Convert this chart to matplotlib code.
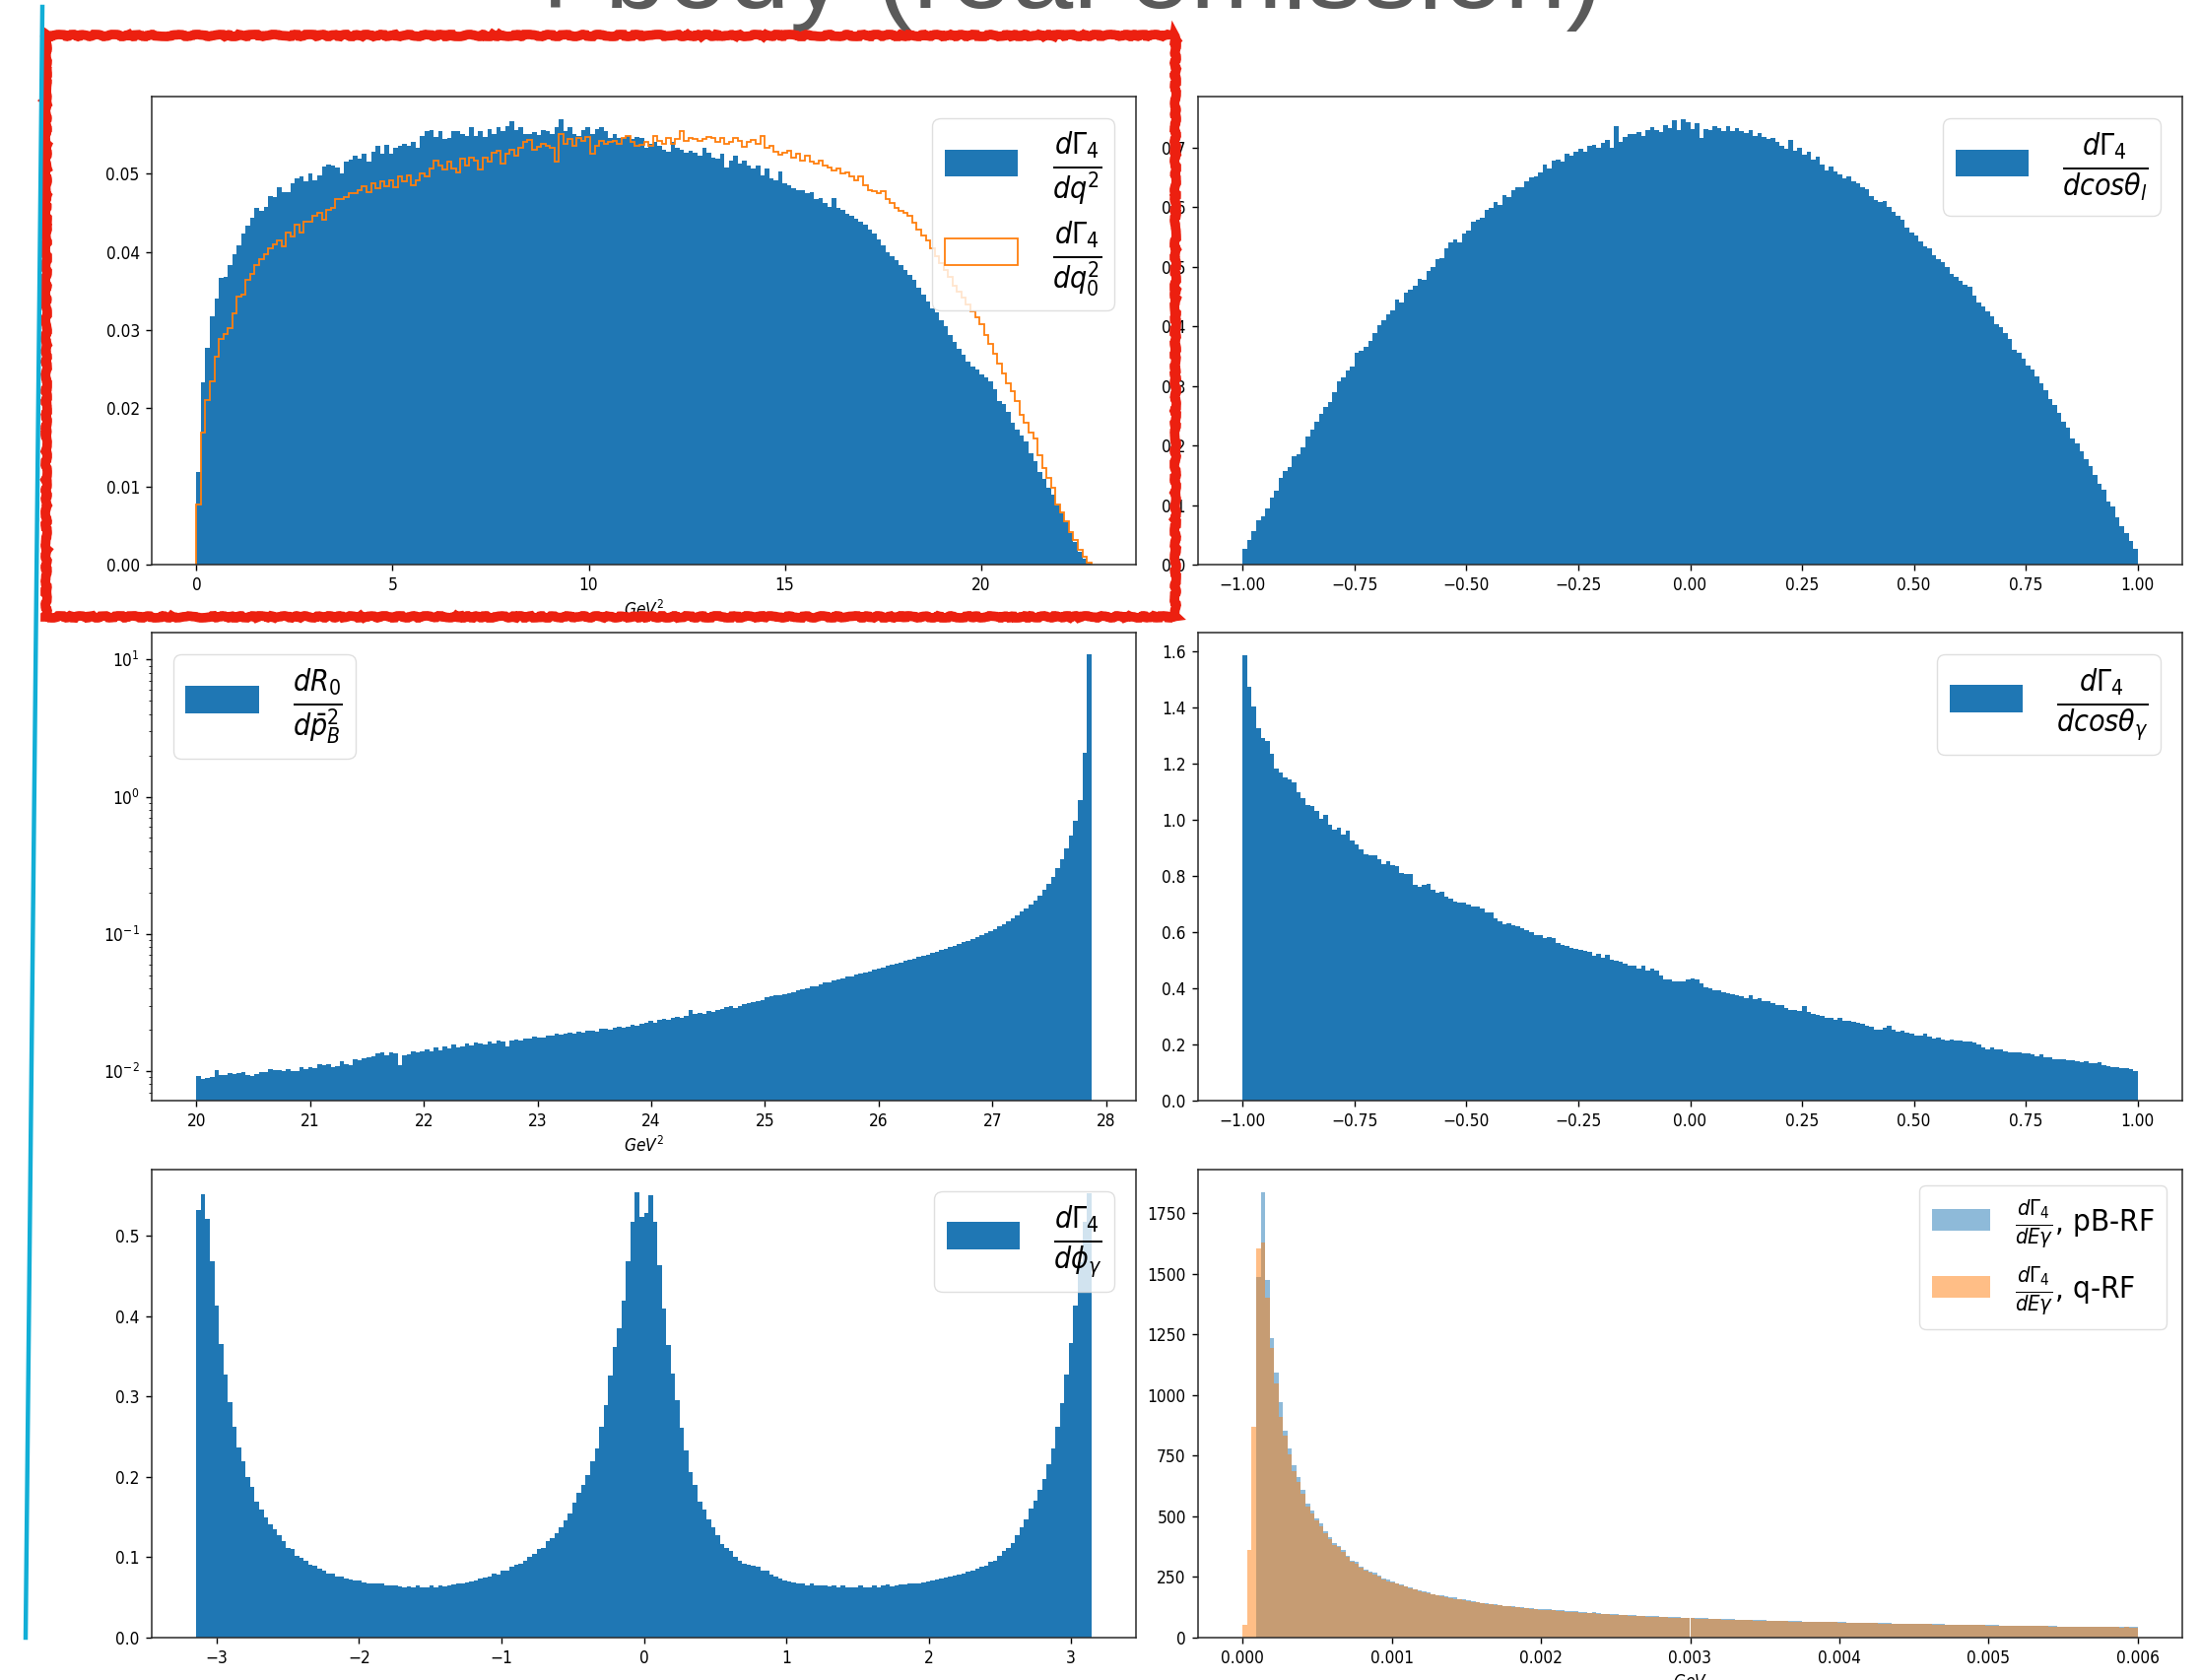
import numpy as np
import matplotlib
matplotlib.use('Agg')
import matplotlib.pyplot as plt
from matplotlib.patches import Rectangle
from matplotlib.lines import Line2D

# ---- data (bin heights, 200 bins each) ----
q2_range = (0.0, 22.81)
q2_blue = [
    0.0118, 0.0233, 0.0277, 0.0317, 0.0340, 0.0367, 0.0368, 0.0383, 0.0397, 0.0408,
    0.0423, 0.0433, 0.0444, 0.0456, 0.0452, 0.0457, 0.0471, 0.0470, 0.0483, 0.0476,
    0.0476, 0.0487, 0.0494, 0.0496, 0.0490, 0.0500, 0.0491, 0.0498, 0.0509, 0.0512,
    0.0510, 0.0508, 0.0500, 0.0515, 0.0518, 0.0523, 0.0519, 0.0526, 0.0515, 0.0528,
    0.0536, 0.0525, 0.0537, 0.0525, 0.0533, 0.0536, 0.0538, 0.0536, 0.0540, 0.0533,
    0.0548, 0.0555, 0.0556, 0.0547, 0.0555, 0.0544, 0.0546, 0.0554, 0.0555, 0.0550,
    0.0548, 0.0559, 0.0548, 0.0554, 0.0547, 0.0557, 0.0550, 0.0559, 0.0554, 0.0561,
    0.0567, 0.0556, 0.0559, 0.0550, 0.0550, 0.0553, 0.0549, 0.0556, 0.0554, 0.0551,
    0.0559, 0.0570, 0.0554, 0.0559, 0.0551, 0.0548, 0.0556, 0.0559, 0.0550, 0.0557,
    0.0559, 0.0554, 0.0546, 0.0551, 0.0545, 0.0546, 0.0548, 0.0544, 0.0547, 0.0546,
    0.0533, 0.0538, 0.0540, 0.0536, 0.0530, 0.0528, 0.0540, 0.0533, 0.0531, 0.0527,
    0.0529, 0.0527, 0.0523, 0.0533, 0.0527, 0.0521, 0.0519, 0.0525, 0.0508, 0.0517,
    0.0523, 0.0513, 0.0517, 0.0510, 0.0506, 0.0510, 0.0498, 0.0506, 0.0494, 0.0491,
    0.0503, 0.0487, 0.0485, 0.0481, 0.0479, 0.0479, 0.0475, 0.0476, 0.0467, 0.0469,
    0.0462, 0.0458, 0.0469, 0.0456, 0.0454, 0.0449, 0.0446, 0.0442, 0.0438, 0.0435,
    0.0429, 0.0423, 0.0416, 0.0408, 0.0400, 0.0395, 0.0389, 0.0383, 0.0377, 0.0370,
    0.0364, 0.0354, 0.0345, 0.0337, 0.0328, 0.0322, 0.0312, 0.0305, 0.0293, 0.0285,
    0.0276, 0.0268, 0.0259, 0.0253, 0.0249, 0.0243, 0.0240, 0.0234, 0.0224, 0.0209,
    0.0205, 0.0195, 0.0182, 0.0172, 0.0165, 0.0157, 0.0142, 0.0132, 0.0119, 0.0109,
    0.0098, 0.0090, 0.0075, 0.0065, 0.0054, 0.0040, 0.0029, 0.0017, 0.0007, 0.0001]
q2_orange = [
    0.0077, 0.0169, 0.0211, 0.0234, 0.0266, 0.0289, 0.0295, 0.0303, 0.0321, 0.0343,
    0.0345, 0.0364, 0.0372, 0.0383, 0.0391, 0.0397, 0.0404, 0.0410, 0.0414, 0.0407,
    0.0425, 0.0420, 0.0435, 0.0425, 0.0438, 0.0438, 0.0446, 0.0450, 0.0441, 0.0454,
    0.0456, 0.0467, 0.0467, 0.0470, 0.0475, 0.0475, 0.0479, 0.0484, 0.0476, 0.0487,
    0.0481, 0.0490, 0.0484, 0.0492, 0.0483, 0.0496, 0.0490, 0.0498, 0.0485, 0.0492,
    0.0500, 0.0496, 0.0506, 0.0517, 0.0510, 0.0505, 0.0515, 0.0506, 0.0502, 0.0519,
    0.0510, 0.0521, 0.0517, 0.0505, 0.0520, 0.0515, 0.0527, 0.0529, 0.0513, 0.0525,
    0.0530, 0.0523, 0.0533, 0.0540, 0.0543, 0.0530, 0.0534, 0.0538, 0.0536, 0.0533,
    0.0515, 0.0550, 0.0538, 0.0544, 0.0536, 0.0546, 0.0542, 0.0547, 0.0525, 0.0536,
    0.0542, 0.0538, 0.0540, 0.0542, 0.0538, 0.0546, 0.0548, 0.0540, 0.0536, 0.0537,
    0.0540, 0.0536, 0.0548, 0.0542, 0.0538, 0.0546, 0.0538, 0.0544, 0.0554, 0.0542,
    0.0546, 0.0544, 0.0542, 0.0544, 0.0547, 0.0545, 0.0540, 0.0546, 0.0538, 0.0540,
    0.0546, 0.0542, 0.0534, 0.0540, 0.0543, 0.0538, 0.0548, 0.0533, 0.0536, 0.0528,
    0.0524, 0.0527, 0.0529, 0.0520, 0.0525, 0.0517, 0.0523, 0.0515, 0.0513, 0.0517,
    0.0510, 0.0508, 0.0504, 0.0506, 0.0500, 0.0502, 0.0496, 0.0491, 0.0496, 0.0485,
    0.0479, 0.0477, 0.0475, 0.0477, 0.0467, 0.0462, 0.0456, 0.0452, 0.0450, 0.0446,
    0.0437, 0.0429, 0.0421, 0.0414, 0.0404, 0.0395, 0.0385, 0.0377, 0.0368, 0.0356,
    0.0349, 0.0341, 0.0333, 0.0324, 0.0316, 0.0308, 0.0293, 0.0282, 0.0270, 0.0257,
    0.0245, 0.0232, 0.0222, 0.0209, 0.0192, 0.0182, 0.0169, 0.0161, 0.0140, 0.0123,
    0.0111, 0.0098, 0.0077, 0.0067, 0.0056, 0.0042, 0.0031, 0.0019, 0.0010, 0.0003]

cos_range = (-1.0, 1.0)
costh_l = [
    0.026, 0.042, 0.056, 0.075, 0.081, 0.094, 0.113, 0.124, 0.146, 0.157,
    0.164, 0.182, 0.186, 0.196, 0.215, 0.226, 0.240, 0.253, 0.264, 0.272,
    0.289, 0.308, 0.314, 0.325, 0.333, 0.355, 0.358, 0.366, 0.375, 0.388,
    0.402, 0.410, 0.420, 0.426, 0.445, 0.440, 0.457, 0.462, 0.468, 0.480,
    0.478, 0.492, 0.500, 0.512, 0.515, 0.530, 0.540, 0.546, 0.540, 0.556,
    0.560, 0.575, 0.578, 0.582, 0.596, 0.598, 0.608, 0.603, 0.620, 0.616,
    0.628, 0.633, 0.634, 0.644, 0.650, 0.652, 0.658, 0.672, 0.665, 0.678,
    0.680, 0.676, 0.690, 0.686, 0.692, 0.697, 0.692, 0.702, 0.705, 0.700,
    0.708, 0.713, 0.699, 0.735, 0.709, 0.718, 0.723, 0.722, 0.726, 0.720,
    0.729, 0.734, 0.730, 0.726, 0.737, 0.733, 0.745, 0.730, 0.748, 0.743,
    0.731, 0.740, 0.716, 0.731, 0.729, 0.735, 0.733, 0.728, 0.735, 0.727,
    0.733, 0.728, 0.725, 0.729, 0.720, 0.724, 0.718, 0.714, 0.716, 0.710,
    0.703, 0.698, 0.712, 0.694, 0.700, 0.688, 0.692, 0.680, 0.685, 0.672,
    0.662, 0.668, 0.660, 0.655, 0.648, 0.652, 0.644, 0.640, 0.634, 0.630,
    0.618, 0.612, 0.608, 0.610, 0.600, 0.592, 0.586, 0.578, 0.566, 0.558,
    0.553, 0.543, 0.534, 0.530, 0.520, 0.512, 0.508, 0.500, 0.488, 0.483,
    0.476, 0.470, 0.466, 0.452, 0.440, 0.433, 0.425, 0.416, 0.404, 0.398,
    0.388, 0.378, 0.360, 0.355, 0.345, 0.334, 0.327, 0.315, 0.305, 0.292,
    0.278, 0.268, 0.255, 0.240, 0.230, 0.212, 0.203, 0.190, 0.177, 0.165,
    0.150, 0.136, 0.125, 0.106, 0.097, 0.080, 0.065, 0.053, 0.040, 0.026]

pb2_range = (20.0, 27.87)
pb2_R0 = [
    0.0092, 0.0087, 0.0089, 0.0091, 0.0101, 0.0094, 0.0094, 0.0096, 0.0095, 0.0097,
    0.0098, 0.0094, 0.0092, 0.0095, 0.0099, 0.0098, 0.0103, 0.0101, 0.0102, 0.0100,
    0.0104, 0.0100, 0.0100, 0.0106, 0.0103, 0.0107, 0.0105, 0.0113, 0.0110, 0.0112,
    0.0107, 0.0109, 0.0118, 0.0112, 0.0111, 0.0121, 0.0119, 0.0124, 0.0126, 0.0128,
    0.0135, 0.0136, 0.0131, 0.0138, 0.0134, 0.0111, 0.0131, 0.0133, 0.0140, 0.0137,
    0.0140, 0.0145, 0.0139, 0.0148, 0.0141, 0.0150, 0.0146, 0.0155, 0.0149, 0.0152,
    0.0158, 0.0154, 0.0162, 0.0160, 0.0157, 0.0165, 0.0160, 0.0166, 0.0163, 0.0150,
    0.0168, 0.0170, 0.0167, 0.0174, 0.0172, 0.0178, 0.0176, 0.0175, 0.0180, 0.0182,
    0.0186, 0.0183, 0.0188, 0.0190, 0.0187, 0.0194, 0.0192, 0.0196, 0.0198, 0.0195,
    0.0202, 0.0204, 0.0200, 0.0207, 0.0209, 0.0206, 0.0212, 0.0218, 0.0215, 0.0222,
    0.0226, 0.0231, 0.0226, 0.0236, 0.0240, 0.0236, 0.0243, 0.0248, 0.0246, 0.0252,
    0.0280, 0.0262, 0.0265, 0.0262, 0.0275, 0.0271, 0.0280, 0.0284, 0.0291, 0.0296,
    0.0288, 0.0300, 0.0306, 0.0312, 0.0318, 0.0326, 0.0330, 0.0346, 0.0352, 0.0356,
    0.0360, 0.0366, 0.0372, 0.0376, 0.0388, 0.0396, 0.0402, 0.0412, 0.0418, 0.0428,
    0.0440, 0.0446, 0.0456, 0.0462, 0.0476, 0.0486, 0.0490, 0.0502, 0.0512, 0.0525,
    0.0532, 0.0548, 0.0562, 0.0570, 0.0584, 0.0598, 0.0606, 0.0620, 0.0636, 0.0648,
    0.0662, 0.0676, 0.0692, 0.0706, 0.0724, 0.0740, 0.0760, 0.0782, 0.0798, 0.0820,
    0.0842, 0.0866, 0.0890, 0.0918, 0.0946, 0.0976, 0.1010, 0.1050, 0.1090, 0.1130,
    0.1180, 0.1240, 0.1300, 0.1370, 0.1450, 0.1540, 0.1640, 0.1760, 0.1900, 0.2080,
    0.2300, 0.2600, 0.3000, 0.3500, 0.4200, 0.5200, 0.6700, 0.9500, 2.0800, 11.000]

costh_g = [
    1.586, 1.472, 1.404, 1.324, 1.291, 1.280, 1.233, 1.183, 1.167, 1.151,
    1.143, 1.132, 1.096, 1.076, 1.052, 1.047, 1.029, 1.003, 1.017, 0.983,
    0.965, 0.971, 0.948, 0.959, 0.927, 0.913, 0.895, 0.878, 0.874, 0.874,
    0.860, 0.840, 0.852, 0.837, 0.834, 0.810, 0.808, 0.805, 0.767, 0.761,
    0.767, 0.770, 0.752, 0.738, 0.744, 0.726, 0.717, 0.709, 0.705, 0.705,
    0.697, 0.691, 0.691, 0.685, 0.670, 0.668, 0.647, 0.639, 0.627, 0.631,
    0.624, 0.619, 0.615, 0.607, 0.598, 0.589, 0.589, 0.580, 0.582, 0.578,
    0.561, 0.554, 0.549, 0.545, 0.540, 0.537, 0.534, 0.530, 0.516, 0.522,
    0.510, 0.519, 0.502, 0.499, 0.493, 0.487, 0.481, 0.479, 0.470, 0.479,
    0.464, 0.470, 0.464, 0.446, 0.432, 0.432, 0.425, 0.423, 0.423, 0.431,
    0.435, 0.432, 0.417, 0.402, 0.400, 0.394, 0.394, 0.386, 0.382, 0.379,
    0.374, 0.371, 0.365, 0.374, 0.362, 0.365, 0.355, 0.353, 0.347, 0.341,
    0.339, 0.330, 0.324, 0.324, 0.320, 0.336, 0.316, 0.309, 0.304, 0.301,
    0.295, 0.293, 0.289, 0.293, 0.283, 0.283, 0.281, 0.277, 0.272, 0.266,
    0.262, 0.254, 0.254, 0.258, 0.266, 0.254, 0.246, 0.248, 0.242, 0.239,
    0.233, 0.231, 0.239, 0.227, 0.221, 0.223, 0.219, 0.213, 0.216, 0.213,
    0.213, 0.211, 0.211, 0.207, 0.199, 0.190, 0.184, 0.188, 0.181, 0.184,
    0.176, 0.172, 0.172, 0.172, 0.169, 0.167, 0.164, 0.157, 0.164, 0.153,
    0.153, 0.149, 0.149, 0.146, 0.143, 0.143, 0.141, 0.138, 0.141, 0.134,
    0.132, 0.138, 0.126, 0.122, 0.120, 0.118, 0.114, 0.114, 0.111, 0.106]

phi_range = (-np.pi, np.pi)
phi_g = [
    0.533, 0.552, 0.521, 0.469, 0.414, 0.365, 0.328, 0.293, 0.263, 0.237,
    0.220, 0.200, 0.188, 0.169, 0.159, 0.150, 0.141, 0.135, 0.127, 0.120,
    0.112, 0.111, 0.102, 0.099, 0.096, 0.091, 0.090, 0.086, 0.083, 0.080,
    0.080, 0.076, 0.076, 0.073, 0.072, 0.071, 0.071, 0.069, 0.068, 0.068,
    0.067, 0.067, 0.065, 0.065, 0.065, 0.064, 0.063, 0.064, 0.062, 0.065,
    0.062, 0.063, 0.065, 0.063, 0.065, 0.064, 0.065, 0.066, 0.067, 0.068,
    0.069, 0.070, 0.071, 0.074, 0.075, 0.076, 0.080, 0.078, 0.083, 0.084,
    0.088, 0.091, 0.092, 0.096, 0.100, 0.104, 0.110, 0.112, 0.120, 0.124,
    0.130, 0.138, 0.146, 0.155, 0.168, 0.180, 0.190, 0.203, 0.220, 0.236,
    0.262, 0.290, 0.326, 0.362, 0.385, 0.420, 0.469, 0.518, 0.555, 0.524,
    0.529, 0.551, 0.518, 0.464, 0.410, 0.364, 0.329, 0.296, 0.261, 0.233,
    0.206, 0.190, 0.169, 0.159, 0.147, 0.138, 0.128, 0.117, 0.112, 0.108,
    0.100, 0.096, 0.092, 0.091, 0.089, 0.088, 0.084, 0.083, 0.078, 0.076,
    0.074, 0.071, 0.070, 0.069, 0.068, 0.068, 0.065, 0.067, 0.065, 0.065,
    0.065, 0.064, 0.065, 0.063, 0.065, 0.062, 0.063, 0.062, 0.065, 0.062,
    0.062, 0.065, 0.063, 0.065, 0.066, 0.064, 0.065, 0.066, 0.066, 0.067,
    0.067, 0.068, 0.069, 0.070, 0.071, 0.072, 0.073, 0.075, 0.076, 0.077,
    0.078, 0.080, 0.082, 0.084, 0.086, 0.088, 0.090, 0.094, 0.096, 0.102,
    0.108, 0.112, 0.118, 0.127, 0.137, 0.147, 0.161, 0.171, 0.184, 0.198,
    0.216, 0.235, 0.263, 0.292, 0.327, 0.367, 0.414, 0.467, 0.518, 0.553]

egam_range = (0.0, 0.006)
egam_pB = [
    0, 0, 0, 1489, 1838, 1476, 1235, 1091, 970, 855,
    782, 709, 662, 608, 554, 523, 493, 473, 439, 415,
    392, 378, 361, 338, 318, 311, 291, 280, 274, 268,
    254, 243, 239, 230, 224, 218, 212, 206, 200, 195,
    190, 186, 180, 176, 175, 170, 166, 165, 160, 157,
    154, 150, 148, 144, 142, 140, 138, 135, 130, 131,
    129, 126, 125, 122, 123, 119, 118, 118, 116, 115,
    113, 112, 110, 109, 108, 106, 105, 103, 104, 101,
    99, 98, 97, 96, 95, 94, 93, 92, 91, 90,
    89, 88, 88, 87, 86, 85, 84, 84, 83, 82,
    82, 81, 80, 80, 79, 78, 78, 77, 76, 76,
    75, 75, 74, 73, 73, 72, 72, 71, 71, 70,
    70, 69, 69, 68, 68, 67, 67, 66, 66, 65,
    65, 64, 64, 63, 63, 62, 62, 62, 61, 61,
    60, 60, 60, 59, 59, 58, 58, 58, 57, 57,
    57, 56, 56, 56, 55, 55, 55, 54, 54, 54,
    53, 53, 53, 52, 52, 52, 51, 51, 51, 50,
    49, 49, 49, 49, 48, 48, 48, 48, 47, 47,
    47, 47, 46, 46, 46, 46, 45, 45, 45, 45,
    45, 44, 44, 44, 44, 43, 43, 43, 43, 43]
egam_q = [
    54, 361, 868, 1604, 1631, 1400, 1196, 1047, 909, 831,
    757, 688, 640, 595, 540, 510, 482, 460, 430, 405,
    383, 372, 352, 332, 312, 303, 287, 276, 268, 262,
    250, 240, 232, 228, 222, 215, 210, 203, 198, 192,
    188, 184, 178, 175, 170, 166, 163, 160, 157, 154,
    151, 147, 145, 142, 140, 137, 135, 133, 130, 128,
    126, 124, 122, 120, 119, 117, 115, 115, 113, 112,
    110, 109, 107, 106, 105, 103, 102, 101, 100, 99,
    97, 96, 95, 94, 93, 92, 91, 90, 89, 88,
    87, 87, 86, 85, 84, 83, 83, 82, 81, 81,
    80, 79, 79, 78, 77, 77, 76, 75, 75, 74,
    74, 73, 72, 72, 71, 71, 70, 70, 69, 69,
    68, 68, 67, 67, 66, 66, 65, 65, 64, 64,
    63, 63, 63, 62, 62, 61, 61, 60, 60, 60,
    59, 59, 58, 58, 58, 57, 57, 57, 56, 56,
    56, 55, 55, 55, 54, 54, 54, 53, 53, 53,
    52, 52, 52, 51, 51, 51, 50, 50, 50, 49,
    49, 49, 48, 48, 48, 48, 47, 47, 47, 47,
    46, 46, 46, 46, 45, 45, 45, 45, 44, 44,
    44, 44, 43, 43, 43, 43, 42, 43, 42, 42]

# ---- style ----
W, H = 2234, 1705
plt.rcParams['font.family'] = ['DejaVu Sans']
plt.rcParams['font.stretch'] = 'condensed'
plt.rcParams['axes.linewidth'] = 1.1
plt.rcParams['axes.edgecolor'] = '#2a2a2a'
plt.rcParams['xtick.labelsize'] = 12.4
plt.rcParams['ytick.labelsize'] = 12.4
plt.rcParams['xtick.major.size'] = 4.4
plt.rcParams['ytick.major.size'] = 4.4
plt.rcParams['xtick.major.width'] = 1.0
plt.rcParams['ytick.major.width'] = 1.0
plt.rcParams['xtick.major.pad'] = 4.4
plt.rcParams['ytick.major.pad'] = 4.4
plt.rcParams['legend.edgecolor'] = '#d8d8d8'

fig = plt.figure(figsize=(W / 100, H / 100), dpi=100)


def px_axes(x0, y0, x1, y1):
    return fig.add_axes([x0 / W, 1 - y1 / H, (x1 - x0) / W, (y1 - y0) / H])


ax1 = px_axes(154, 98, 1153, 573)
ax2 = px_axes(1216, 98, 2215, 573)
ax3 = px_axes(154, 642, 1153, 1117)
ax4 = px_axes(1216, 642, 2215, 1117)
ax5 = px_axes(154, 1187, 1153, 1662)
ax6 = px_axes(1216, 1187, 2215, 1662)


def hist_from(ax, rng, vals, **kw):
    edges = np.linspace(rng[0], rng[1], len(vals) + 1)
    centers = 0.5 * (edges[:-1] + edges[1:])
    return ax.hist(centers, bins=edges, weights=vals, **kw)


# legend with large fractions but handles kept at the reference size
frac_leg = dict(fontsize=31, handlelength=1.72, handleheight=0.6,
                labelspacing=0.28, borderpad=0.3)

# q^2
hist_from(ax1, q2_range, q2_blue, label=r'$\frac{d\Gamma_4}{dq^2}$')
hist_from(ax1, q2_range, q2_orange, histtype='step', lw=1.3,
          label=r'$\frac{d\Gamma_4}{dq_0^2}$')
ax1.set_xlabel(r'$GeV^2$', fontsize=12.4)
ax1.legend(loc='upper right', **frac_leg)

# cos theta_l
hist_from(ax2, cos_range, costh_l, label=r'$\frac{d\Gamma_4}{dcos\theta_l}$')
ax2.legend(loc='upper right', **frac_leg)

# pB^2 (log)
hist_from(ax3, pb2_range, pb2_R0, log=True, label=r'$\frac{dR_0}{d\bar{p}_B^2}$')
ax3.set_xlabel(r'$GeV^2$', fontsize=12.4)
ax3.legend(loc='upper left', **frac_leg)

# cos theta_gamma
hist_from(ax4, cos_range, costh_g, label=r'$\frac{d\Gamma_4}{dcos\theta_\gamma}$')
ax4.legend(loc='upper right', **frac_leg)

# phi_gamma
hist_from(ax5, phi_range, phi_g, label=r'$\frac{d\Gamma_4}{d\phi_\gamma}$')
ax5.legend(loc='upper right', **frac_leg)

# E_gamma
hist_from(ax6, egam_range, egam_pB, alpha=0.5, label=r'$\frac{d\Gamma_4}{dE\gamma}$, pB-RF')
hist_from(ax6, egam_range, egam_q, alpha=0.5, label=r'$\frac{d\Gamma_4}{dE\gamma}$, q-RF')
ax6.set_xlabel(r'$GeV$', fontsize=12.4)
ax6.legend(loc='upper right', fontsize=22.5, handlelength=1.9)

# ---- slide decorations ----
fig.text(520 / W, 1 - 8 / H, '4 body (real emission)', fontsize=81,
         color='#5a5a5a', family=['Liberation Sans', 'DejaVu Sans'],
         ha='left', va='baseline')

box = Rectangle((47 / W, 1 - 626 / H), (1193 - 47) / W, (626 - 36) / H,
                transform=fig.transFigure, fill=False, ec='#ec2010', lw=7, zorder=20)
box.set_sketch_params(scale=1.0, length=25, randomness=8)
fig.add_artist(box)

fig.add_artist(Line2D([43 / W, 26 / W], [1 - 7 / H, 1 - 1662 / H],
                      transform=fig.transFigure, color='#12aed6', lw=3.2, zorder=20))

fig.savefig('out.png', dpi=100)
